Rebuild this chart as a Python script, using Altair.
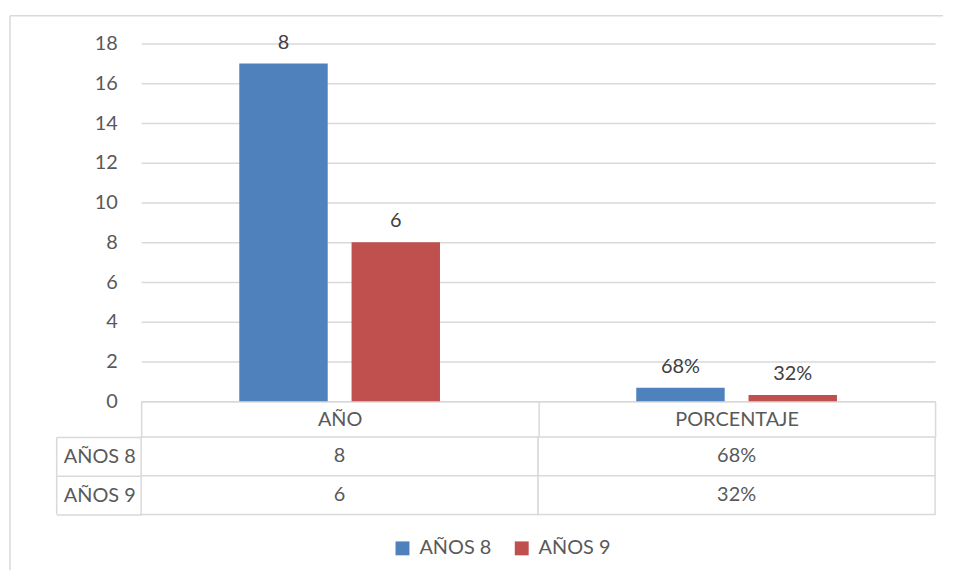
import altair as alt
import pandas as pd

categories = ["AÑO", "PORCENTAJE"]
series = ["AÑOS 8", "AÑOS 9"]
values_anos8 = [17, 0.68]
values_anos9 = [8, 0.32]
labels_anos8 = ["8", "68%"]
labels_anos9 = ["6", "32%"]
y_ticks = [0, 2, 4, 6, 8, 10, 12, 14, 16, 18]
colors = ["#4f81bd", "#c0504d"]

GRID = "#d9d9d9"
TXT = "#595959"
LBL = "#404040"
FONT = "Lato"
FS = 20

rows = []
for i, c in enumerate(categories):
    rows.append({"cat": c, "serie": series[0], "value": values_anos8[i], "label": labels_anos8[i]})
    rows.append({"cat": c, "serie": series[1], "value": values_anos9[i], "label": labels_anos9[i]})
df = pd.DataFrame(rows)
one = pd.DataFrame({"k": [0]})

W, H = 799, 360

x_enc = alt.X("cat:N", sort=categories, title=None,
              scale=alt.Scale(paddingInner=0, paddingOuter=0),
              axis=alt.Axis(orient="bottom", domainColor=GRID, domainWidth=1.5,
                            tickBand="extent", tickSize=36, tickColor=GRID, tickWidth=1.5,
                            labelPadding=-18, labelBaseline="middle", labelAngle=0,
                            labelFont=FONT, labelFontSize=FS, labelColor=TXT))
xoff = alt.XOffset("serie:N", sort=series,
                   scale=alt.Scale(paddingInner=0.2124, paddingOuter=0.874))
y_axis = alt.Axis(values=y_ticks, tickCount=20, grid=True, gridColor=GRID, gridWidth=1.5,
                  domain=False, ticks=False, labelPadding=24,
                  labelOverlap=False, labelBound=False, labelFlush=False,
                  labelFont=FONT, labelFontSize=FS, labelColor=TXT)
y_enc = alt.Y("value:Q", title=None,
              scale=alt.Scale(domain=[0, 18], nice=False), axis=y_axis)

bars = alt.Chart(df).mark_bar().encode(
    x=x_enc, xOffset=xoff, y=y_enc,
    color=alt.Color("serie:N", sort=series, scale=alt.Scale(domain=series, range=colors),
                    legend=alt.Legend(title=None, orient="none", legendX=253, legendY=498,
                                      direction="horizontal", symbolType="square",
                                      symbolSize=196, symbolStrokeWidth=0,
                                      labelFont=FONT, labelFontSize=FS, labelColor=TXT,
                                      labelOffset=7, columnPadding=20)),
)
bar_text = alt.Chart(df).mark_text(baseline="alphabetic", dy=-15, font=FONT,
                                   fontSize=FS, color=LBL).encode(
    x=x_enc, xOffset=xoff, y=y_enc, text="label:N")

frame_top = alt.Chart(one).mark_rule(color=GRID, strokeWidth=1.5).encode(
    x=alt.value(-132), x2=alt.value(807), y=alt.value(-28))
frame_left = alt.Chart(one).mark_rule(color=GRID, strokeWidth=1.5).encode(
    x=alt.value(-132), y=alt.value(-28), y2=alt.value(530))

top = alt.layer(bars, bar_text, frame_top, frame_left).properties(width=W, height=H)

TH = 78
cells = alt.Chart(df).mark_rect(fill="white", stroke=GRID, strokeWidth=1.5).encode(
    x=alt.X("cat:N", sort=categories, title=None,
            scale=alt.Scale(paddingInner=0, paddingOuter=0), axis=None),
    y=alt.Y("serie:N", sort=series, title=None,
            scale=alt.Scale(paddingInner=0, paddingOuter=0),
            axis=alt.Axis(orient="left", domain=False, tickBand="extent", tickSize=85,
                          tickColor=GRID, tickWidth=1.5, labelPadding=-79,
                          labelBaseline="middle", labelFont=FONT, labelFontSize=FS,
                          labelColor=TXT)),
)
cell_text = alt.Chart(df).mark_text(font=FONT, fontSize=FS, color=TXT, baseline="middle").encode(
    x=alt.X("cat:N", sort=categories), y=alt.Y("serie:N", sort=series), text="label:N")
table_left = alt.Chart(one).mark_rule(color=GRID, strokeWidth=1.5).encode(
    x=alt.value(-85), y=alt.value(0), y2=alt.value(TH))

table = alt.layer(cells, cell_text, table_left).properties(width=W, height=TH)

chart = alt.vconcat(top, table, spacing=36, bounds="flush").properties(
    padding={"left": 1, "top": 5, "right": 5, "bottom": 5},
    background="white",
).configure_view(stroke=None)

chart.save("out.html", embed_options={"renderer": "svg", "actions": False})
